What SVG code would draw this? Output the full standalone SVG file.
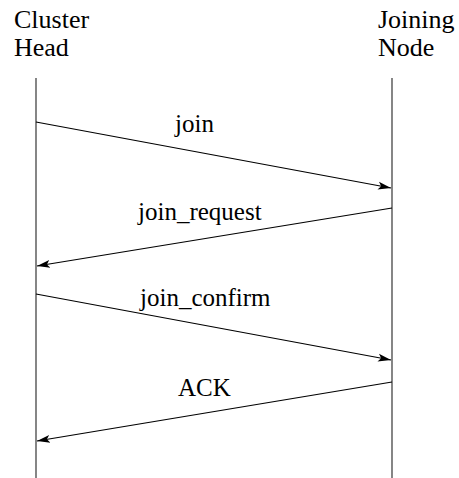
<svg xmlns="http://www.w3.org/2000/svg" width="459" height="478" viewBox="0 0 459 478">
  <style>
    .lbl { font-family: "Liberation Serif", "Times New Roman", serif; font-size: 25px; fill: #000; }
    .hdr { font-size: 26px; }
    .life { stroke: #444; stroke-width: 1.3; fill: none; }
    .msg { stroke: #000; stroke-width: 1.2; fill: none; marker-end: url(#head); }
  </style>
  <defs>
    <marker id="head" markerUnits="userSpaceOnUse" markerWidth="14" markerHeight="10" refX="13" refY="4" orient="auto" viewBox="0 0 14 8">
      <path d="M0,0 L13,4 L0,8 L3,4 z" fill="#000"/>
    </marker>
  </defs>

  <g id="cluster-head">
    <text class="lbl hdr" x="14" y="28">Cluster</text>
    <text class="lbl hdr" x="14" y="56">Head</text>
    <line class="life" x1="36" y1="78" x2="36" y2="478"/>
  </g>

  <g id="joining-node">
    <text class="lbl hdr" x="378" y="28">Joining</text>
    <text class="lbl hdr" x="378" y="56">Node</text>
    <line class="life" x1="392" y1="78" x2="392" y2="478"/>
  </g>

  <g id="connectors">
    <line class="msg" x1="36" y1="122" x2="391" y2="188"/>
    <line class="msg" x1="392" y1="208" x2="37" y2="266"/>
    <line class="msg" x1="36" y1="294" x2="391" y2="360"/>
    <line class="msg" x1="392" y1="382" x2="37" y2="441"/>
  </g>

  <g id="labels">
    <text class="lbl" x="175" y="132">join</text>
    <text class="lbl" x="138" y="220">join_request</text>
    <text class="lbl" x="140" y="306">join_confirm</text>
    <text class="lbl" x="178" y="396">ACK</text>
  </g>
</svg>
